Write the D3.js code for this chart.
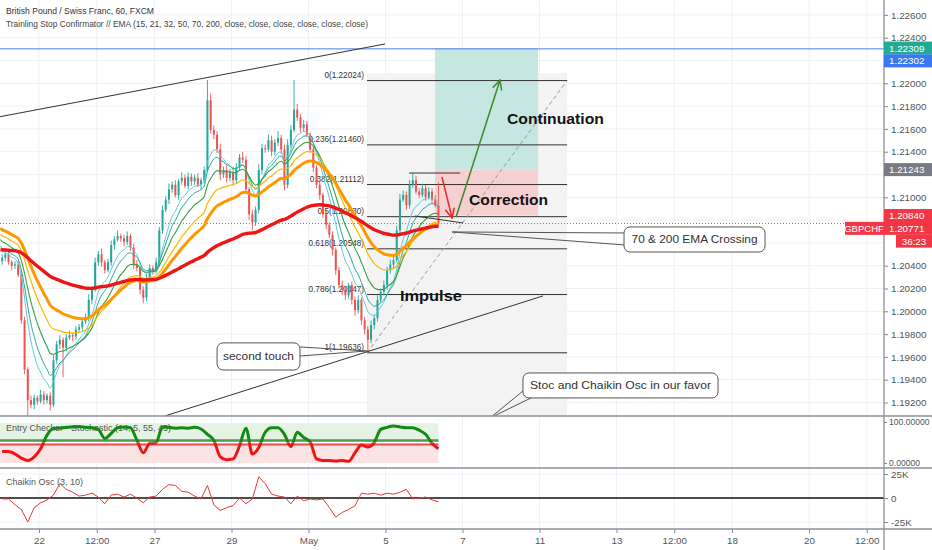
<!DOCTYPE html>
<html><head><meta charset="utf-8">
<script src="https://cdn.jsdelivr.net/npm/d3@7/dist/d3.min.js"></script>
<style>html,body{margin:0;padding:0;background:#fff}svg{display:block;font-family:"Liberation Sans",Arial,sans-serif}</style>
</head><body><svg id="chart" width="932" height="550"></svg>
<script>
// ---------------- DATA ----------------
const title = "British Pound / Swiss Franc, 60, FXCM";
const subtitle = "Trainling Stop Confirmator // EMA (15, 21, 32, 50, 70, 200, close, close, close, close, close, close)";
const symbol = "GBPCHF";
const countdown = "36:23";

// 2-hour bars, first bar starts 24 h before 22 Apr 00:00 (trading hours)
const barStart = -24, barHours = 2;
const firstOpen = 1.2044;
const closes = [
 1.2047,1.2050,1.2043,1.2040,1.2041,1.2032,1.1992,1.1949,1.1922,1.1918,
 1.1924,1.1921,1.1927,1.1922,1.1926,1.1918,1.1957,1.1971,1.1975,1.1968,
 1.1977,1.1979,1.1978,1.1984,1.1986,1.1991,1.1994,1.2010,1.2019,1.2043,
 1.2050,1.2043,1.2036,1.2043,1.2058,1.2063,1.2066,1.2064,1.2061,1.2066,
 1.2056,1.2041,1.2038,1.2019,1.2012,1.2028,1.2038,1.2035,1.2043,1.2071,
 1.2089,1.2098,1.2107,1.2111,1.2102,1.2114,1.2117,1.2110,1.2118,1.2114,
 1.2117,1.2111,1.2115,1.2124,1.2185,1.2159,1.2155,1.2142,1.2120,1.2124,
 1.2117,1.2122,1.2115,1.2126,1.2135,1.2133,1.2107,1.2085,1.2078,1.2089,
 1.2124,1.2143,1.2142,1.2150,1.2140,1.2148,1.2152,1.2142,1.2111,1.2146,
 1.2159,1.2177,1.2170,1.2161,1.2164,1.2155,1.2142,1.2126,1.2111,1.2102,
 1.2085,1.2076,1.2067,1.2054,1.2036,1.2023,1.2019,1.2014,1.2023,1.2010,
 1.2001,1.2010,1.1992,1.1984,1.1975,1.1988,1.1994,1.2010,1.2017,1.2023,
 1.2036,1.2041,1.2045,1.2071,1.2098,1.2102,1.2093,1.2111,1.2115,1.2105,
 1.2102,1.2108,1.2100,1.2105,1.2098,1.2093,1.2077];
// wick lengths in pips above / below the body
const wickUp = [
 3,2,4,2,3,3,2,3,2,4, 3,2,4,3,2,3,5,3,4,2, 3,4,2,3,3,2,4,5,3,4, 3,5,2,3,4,3,5,2,3,4,
 2,3,4,2,3,5,3,2,4,3, 4,3,5,3,4,2,5,3,4,3, 3,4,2,3,18,6,4,3,5,3, 4,3,5,4,3,5,3,2,4,3,
 5,4,3,5,4,3,6,3,4,5, 4,26,5,3,4,3,2,3,2,4, 2,3,2,3,2,3,4,3,2,3, 3,4,2,3,3,4,3,4,3,4,
 3,4,3,4,5,4,3,4,6,4, 3,4,3,4,3,4,20];
const wickDn = [
 3,3,2,4,3,2,3,4,14,3, 4,3,2,4,3,5,2,3,4,26, 3,2,4,3,2,3,2,3,4,2, 3,4,3,2,3,4,2,3,4,3,
 3,4,3,4,5,3,2,3,2,3, 3,2,4,3,2,4,3,2,3,4, 3,2,4,3,2,3,4,3,5,3, 4,3,4,3,2,3,4,5,7,3,
 3,4,3,2,4,3,3,4,5,3, 3,2,3,4,3,2,3,4,3,4, 3,4,3,5,4,3,5,4,3,4, 5,3,4,4,11,3,4,3,2,3,
 4,3,3,2,3,2,4,3,3,2, 3,2,3,2,3,2,3];

const emaPeriods = [15, 21, 32, 50, 70, 200];
const emaSeeds   = [1.2054, 1.2057, 1.2063, 1.2068, 1.2073, 1.2054]; // values at left edge

// oscillators sampled every 4 hours
const oscStart = -23, oscStep = 4;
const stochValues = [
 28,28,22,12,6,15,35,68,84,85, 87,88,89,87,86,82,60,72,86,88,
 86,56,25,48,50,88,87,85,86,85, 87,83,70,55,15,8,10,42,85,22,
 38,75,86,86,70,40,75,62,52,10, 6,6,5,6,4,25,44,39,50,82,
 87,90,88,86,86,80,70,48,35];
const chaikinK = [
 -1,-1,-7,-12,-25,-10,-5,-2,3,15, 9,6,2,3,5,1,-6,3,4,1,
 4,0,-5,1,2,9,14,13,7,6, 2,-1,13,-7,-13,-10,-8,0,-6,-1,
 22,15,4,2,1,-6,2,-3,-1,-2, -1,-10,-20,-15,-12,-8,5,4,5,3,
 5,4,6,9,-1,0,1,-2,-4];
const stochUpper = 55, stochLower = 45;

const priceTicks = [1.192,1.194,1.196,1.198,1.200,1.202,1.204,1.206,1.208,1.210,1.212,1.214,1.216,1.218,1.220,1.222,1.224,1.226];
const timeTickHours  = [0, 36, 72, 120, 168, 216, 264, 312, 360, 396, 432, 480, 516];
const timeTickLabels = ["22","12:00","27","29","May","5","7","11","13","12:00","18","20","12:00"];

// Fibonacci (trend-based) from 1.19636 to 1.22024
const fibRatios = ["0","0.236","0.382","0.5","0.618","0.786","1"];
const fibPrices = [1.22024,1.21460,1.21112,1.20830,1.20548,1.20147,1.19636];
const fibHours = [204.5, 329.2];
const fibBgTop = 1.22090;

// Long position tool
const longHours = [246.9, 311.1];
const longEntry = 1.21243, longStop = 1.20840, longTarget = 1.22309;
const blueLinePrice = 1.22302;

// trend lines [h1,p1,h2,p2]
const trendLines = [
 [-24.3,1.21707,215.7,1.22345],
 [78.5,1.19082,314.2,1.20135],
 [230.7,1.21213,262.5,1.21213],
 [234.4,1.20836,264.3,1.20775]];
const greenArrow = [260.0,1.20827,287.4,1.22029];
const redArrow = [251.2,1.21178,257.5,1.20818];
const boldLabels = [
 {text:"Continuation", h:291.7, p:1.21642, w:97},
 {text:"Correction",   h:268.1, p:1.20932, w:79},
 {text:"Impulse",      h:225.0, p:1.20090, w:62}];
// callouts: box corners (h,p), tail tip, two tail base points
const callouts = [
 {text:"70 & 200 EMA Crossing", box:[364.7,1.20740,452.6,1.20520], tip:[257.5,1.20696], base:[[364.7,1.20687],[364.7,1.20582]], w:126},
 {text:"second touch", box:[111.0,1.19723,162.7,1.19485], tip:[204.5,1.19652], base:[[162.7,1.19687],[162.7,1.19608]], w:71},
 {text:"Stoc and Chaikin Osc in our favor", box:[301.7,1.19459,423.3,1.19240], tip:[281.1,1.19064], base:[[301.7,1.19301],[306.7,1.19240]], w:181}];

// ---------------- LAYOUT ----------------
const svg = d3.select("#chart");
const axisX = 884, mainBottom = 416, stochBottom = 468, chartBottom = 529;
const x = d3.scaleLinear().domain([0, 24]).range([39, 77.5]);
const y = d3.scaleLinear().domain([1.20, 1.22]).range([311.3, 83.3]);
const yS = d3.scaleLinear().domain([0, 100]).range([463, 422]);
const yC = d3.scaleLinear().domain([-25, 25]).range([522, 474]);
const gridCol = "#eef1f5";

const defs = svg.append("defs");
defs.append("clipPath").attr("id","mainClip").append("rect").attr("x",0).attr("y",0).attr("width",axisX).attr("height",mainBottom);
defs.append("clipPath").attr("id","stochUp").append("rect").attr("x",0).attr("y",0).attr("width",axisX).attr("height",yS(50));
defs.append("clipPath").attr("id","stochDn").append("rect").attr("x",0).attr("y",yS(50)).attr("width",axisX).attr("height",stochBottom-yS(50));

// grid
const grid = svg.append("g");
priceTicks.forEach(p => grid.append("line").attr("x1",0).attr("x2",axisX).attr("y1",y(p)).attr("y2",y(p)).attr("stroke",gridCol));
timeTickHours.forEach(h => grid.append("line").attr("x1",x(h)).attr("x2",x(h)).attr("y1",0).attr("y2",chartBottom).attr("stroke",gridCol));
[-25,25].forEach(v => grid.append("line").attr("x1",0).attr("x2",axisX).attr("y1",yC(v)).attr("y2",yC(v)).attr("stroke",gridCol));

const main = svg.append("g").attr("clip-path","url(#mainClip)");

// fib background + long position fills
main.append("rect").attr("x",x(fibHours[0])).attr("y",y(fibBgTop)).attr("width",x(fibHours[1])-x(fibHours[0])).attr("height",mainBottom-y(fibBgTop)).attr("fill","#f3f3f4");
main.append("rect").attr("x",x(longHours[0])).attr("y",y(longTarget)).attr("width",x(longHours[1])-x(longHours[0])).attr("height",y(longEntry)-y(longTarget)).attr("fill","#c6e6e1");
main.append("rect").attr("x",x(longHours[0])).attr("y",y(longEntry)).attr("width",x(longHours[1])-x(longHours[0])).attr("height",y(longStop)-y(longEntry)).attr("fill","#f6cfd0");

// blue horizontal line & current price line
main.append("line").attr("x1",0).attr("x2",axisX).attr("y1",y(blueLinePrice)).attr("y2",y(blueLinePrice)).attr("stroke","#4a7fe8").attr("stroke-width",1);
const lastClose = closes[closes.length-1];
main.append("line").attr("x1",0).attr("x2",axisX).attr("y1",y(lastClose)).attr("y2",y(lastClose)).attr("stroke","#ef5350").attr("stroke-width",1).attr("stroke-dasharray","1,2");

// fib lines & labels
fibPrices.forEach((p,i) => {
  main.append("line").attr("x1",x(fibHours[0])).attr("x2",x(fibHours[1])).attr("y1",y(p)).attr("y2",y(p)).attr("stroke","#333").attr("stroke-width",1);
  main.append("text").attr("x",x(fibHours[0])-3).attr("y",y(p)-2.5).attr("text-anchor","end").attr("font-size",8.2).attr("fill","#333")
    .text(fibRatios[i]+"("+p.toFixed(5)+")");
});
main.append("line").attr("x1",x(fibHours[0])).attr("y1",y(fibPrices[6])).attr("x2",x(fibHours[1])).attr("y2",y(fibPrices[0]))
  .attr("stroke","#999").attr("stroke-width",1).attr("stroke-dasharray","4,3");

// candles
const bars = closes.map((c,i) => {
  const o = i === 0 ? firstOpen : closes[i-1];
  return {t: barStart + i*barHours + barHours/2, o, c, h: Math.max(o,c) + wickUp[i]/1e4, l: Math.min(o,c) - wickDn[i]/1e4};
});
const cg = main.append("g");
bars.forEach(b => {
  const col = b.c >= b.o ? "#26a69a" : "#ef5350";
  cg.append("line").attr("x1",x(b.t)).attr("x2",x(b.t)).attr("y1",y(b.h)).attr("y2",y(b.l)).attr("stroke",col).attr("stroke-width",0.9);
  const top = y(Math.max(b.o,b.c)), bot = y(Math.min(b.o,b.c));
  cg.append("rect").attr("x",x(b.t)-1).attr("y",top).attr("width",2).attr("height",Math.max(0.8,bot-top)).attr("fill",col);
});

// EMAs
const emaStyle = [
  {c:"#5ccbdc", w:1}, {c:"#2aa897", w:1}, {c:"#34a044", w:1.1},
  {c:"#f7b900", w:1.2}, {c:"#ff9800", w:3}, {c:"#ee1515", w:3.4}];
emaPeriods.forEach((n,k) => {
  const a = 1 - Math.pow(1 - 2/(n+1), barHours);
  let v = emaSeeds[k];
  const pts = bars.map(b => { v = v + a*(b.c - v); return [b.t, v]; });
  pts.unshift([barStart, emaSeeds[k]]);
  main.append("path").attr("d", d3.line().x(d=>x(d[0])).y(d=>y(d[1])).curve(d3.curveMonotoneX)(pts))
    .attr("fill","none").attr("stroke",emaStyle[k].c).attr("stroke-width",emaStyle[k].w).attr("stroke-linejoin","round");
});

// trend lines
trendLines.forEach(l => main.append("line").attr("x1",x(l[0])).attr("y1",y(l[1])).attr("x2",x(l[2])).attr("y2",y(l[3])).attr("stroke","#333").attr("stroke-width",1));

// arrows
function arrow(a, col){
  const x1=x(a[0]), y1=y(a[1]), x2=x(a[2]), y2=y(a[3]);
  main.append("line").attr("x1",x1).attr("y1",y1).attr("x2",x2).attr("y2",y2).attr("stroke",col).attr("stroke-width",1.5);
  const ang = Math.atan2(y2-y1, x2-x1);
  [ang+Math.PI-0.45, ang+Math.PI+0.45].forEach(t => main.append("line").attr("x1",x2).attr("y1",y2)
    .attr("x2",x2+10*Math.cos(t)).attr("y2",y2+10*Math.sin(t)).attr("stroke",col).attr("stroke-width",1.5).attr("stroke-linecap","round"));
}
arrow(greenArrow, "#3b8a2c");
arrow(redArrow, "#e8262a");

// bold labels
boldLabels.forEach(b => main.append("text").attr("x",x(b.h)).attr("y",y(b.p)).attr("font-size",15.5).attr("font-weight","bold")
  .attr("fill","#131313").attr("textLength",b.w).attr("lengthAdjust","spacingAndGlyphs").text(b.text));

// callouts
callouts.forEach(co => {
  const bx = x(co.box[0]), by = y(co.box[1]), bw = x(co.box[2])-bx, bh = y(co.box[3])-by;
  main.append("rect").attr("x",bx).attr("y",by).attr("width",bw).attr("height",bh).attr("rx",6).attr("fill","#fff").attr("stroke","#555").attr("stroke-width",1);
  const b0 = co.base[0], b1 = co.base[1];
  main.append("path").attr("d",`M${x(b0[0])},${y(b0[1])}L${x(co.tip[0])},${y(co.tip[1])}L${x(b1[0])},${y(b1[1])}`)
    .attr("fill","none").attr("stroke","#555").attr("stroke-width",1);
  main.append("text").attr("x",bx+bw/2).attr("y",by+bh/2+4).attr("text-anchor","middle").attr("font-size",11.5).attr("fill","#333")
    .attr("textLength",co.w).attr("lengthAdjust","spacingAndGlyphs").text(co.text);
});

// header
svg.append("text").attr("x",6).attr("y",14).attr("font-size",9).attr("fill","#333").attr("textLength",148).attr("lengthAdjust","spacingAndGlyphs").text(title);
svg.append("text").attr("x",6).attr("y",26.5).attr("font-size",8.6).attr("fill","#444").attr("textLength",362).attr("lengthAdjust","spacingAndGlyphs").text(subtitle);

// ---------------- STOCHASTIC PANE ----------------
const oscX = j => x(oscStart + j*oscStep);
const lastOscX = oscX(stochValues.length-1);
svg.append("rect").attr("x",0).attr("y",yS(97)).attr("width",lastOscX).attr("height",yS(stochUpper)-yS(97)).attr("fill","#e4f3e4");
svg.append("rect").attr("x",0).attr("y",yS(stochLower)).attr("width",lastOscX).attr("height",yS(0)-yS(stochLower)).attr("fill","#fde4e4");
svg.append("line").attr("x1",0).attr("x2",lastOscX).attr("y1",yS(stochUpper)).attr("y2",yS(stochUpper)).attr("stroke","#4e9a4e").attr("stroke-width",2.5);
svg.append("line").attr("x1",0).attr("x2",lastOscX).attr("y1",yS(stochLower)).attr("y2",yS(stochLower)).attr("stroke","#ea4a4a").attr("stroke-width",2);
svg.append("text").attr("x",6).attr("y",430.5).attr("font-size",9).attr("fill","#555").text("Entry Checker - Stochastic (14, 5, 55, 45)");
const stochLine = d3.line().x((d,j)=>oscX(j)).y(d=>yS(d)).curve(d3.curveMonotoneX)(stochValues);
svg.append("path").attr("d",stochLine).attr("clip-path","url(#stochUp)").attr("fill","none").attr("stroke","#138a13").attr("stroke-width",3).attr("stroke-linejoin","round");
svg.append("path").attr("d",stochLine).attr("clip-path","url(#stochDn)").attr("fill","none").attr("stroke","#f01414").attr("stroke-width",3).attr("stroke-linejoin","round");

// ---------------- CHAIKIN PANE ----------------
svg.append("text").attr("x",6).attr("y",484.5).attr("font-size",9).attr("fill","#555").text("Chaikin Osc (3, 10)");
svg.append("line").attr("x1",0).attr("x2",axisX).attr("y1",yC(0)).attr("y2",yC(0)).attr("stroke","#111").attr("stroke-width",1.5);
svg.append("path").attr("d",d3.line().x((d,j)=>oscX(j)).y(d=>yC(d))(chaikinK)).attr("fill","none").attr("stroke","#e53935").attr("stroke-width",1);

// ---------------- AXES & SEPARATORS ----------------
const lastClosePrice = closes[closes.length-1];
const axisLabels = [
  {p:longTarget, text:longTarget.toFixed(5), bg:"#22ab94"},
  {p:blueLinePrice, text:blueLinePrice.toFixed(5), bg:"#3b78f0"},
  {p:longEntry, text:longEntry.toFixed(5), bg:"#787b86"},
  {p:longStop, text:longStop.toFixed(5), bg:"#f23645"},
  {p:lastClosePrice, text:"1.20771", bg:"#f23645", sym:true}];
// resolve label stacking
let prevY = -100;
const placed = [];
axisLabels.forEach(l => {
  let cy = y(l.p);
  if (cy < prevY + 12.8) cy = prevY + 12.8;
  prevY = cy;
  placed.push(Object.assign({cy}, l));
  if (l.sym) placed.push({cy: cy + 12.8, text: countdown, bg: l.bg, timer: true});
});
const visibleTicks = priceTicks.filter(p => y(p) < mainBottom - 4 && placed.every(l => Math.abs(l.cy - y(p)) > 10));

function styleAxis(g, fs){
  g.select(".domain").remove();
  g.attr("font-family","Liberation Sans, Arial, sans-serif").attr("font-size",fs || 9.8);
  g.selectAll("text").attr("fill","#555");
  g.selectAll("line").attr("stroke","#888");
}
svg.append("g").attr("transform",`translate(${axisX},0)`)
  .call(d3.axisRight(y).tickValues(visibleTicks).tickFormat(d3.format(".5f")).tickSize(4).tickPadding(3)).call(styleAxis);
svg.append("g").attr("transform",`translate(${axisX},0)`)
  .call(d3.axisRight(yS).tickValues([0,100]).tickFormat(d3.format(".5f")).tickSize(3).tickPadding(2)).call(g => styleAxis(g, 8.6));
svg.append("g").attr("transform",`translate(${axisX},0)`)
  .call(d3.axisRight(yC).tickValues([-25,0,25]).tickFormat(d => d===0 ? "0" : d+"K").tickSize(4).tickPadding(3)).call(styleAxis);
svg.append("g").attr("transform",`translate(0,${chartBottom})`)
  .call(d3.axisBottom(x).tickValues(timeTickHours).tickFormat((d,i)=>timeTickLabels[i]).tickSize(4).tickPadding(4)).call(styleAxis);

[mainBottom, stochBottom, chartBottom].forEach(yy => svg.append("line").attr("x1",0).attr("x2",932).attr("y1",yy).attr("y2",yy).attr("stroke","#8d9099").attr("stroke-width",1.3));
svg.append("line").attr("x1",axisX).attr("x2",axisX).attr("y1",0).attr("y2",550).attr("stroke","#8d9099").attr("stroke-width",1.3);

// price labels on the axis
placed.forEach(l => {
  if (l.timer) {
    svg.append("rect").attr("x",axisX+12).attr("y",l.cy-6.5).attr("width",36).attr("height",13).attr("fill",l.bg);
    svg.append("text").attr("x",axisX+30).attr("y",l.cy+3.5).attr("text-anchor","middle").attr("font-size",9.8).attr("fill","#fff").text(l.text);
    return;
  }
  svg.append("rect").attr("x",axisX).attr("y",l.cy-6.5).attr("width",48).attr("height",13).attr("fill",l.bg);
  svg.append("text").attr("x",axisX+5).attr("y",l.cy+3.5).attr("font-size",9.8).attr("fill","#fff").text(l.text);
  if (l.sym) {
    svg.append("rect").attr("x",axisX-39).attr("y",l.cy-6.5).attr("width",39).attr("height",13).attr("fill",l.bg);
    svg.append("text").attr("x",axisX-20).attr("y",l.cy+3.5).attr("text-anchor","middle").attr("font-size",9.5).attr("fill","#fff").text(symbol);
  }
});
</script></body></html>
